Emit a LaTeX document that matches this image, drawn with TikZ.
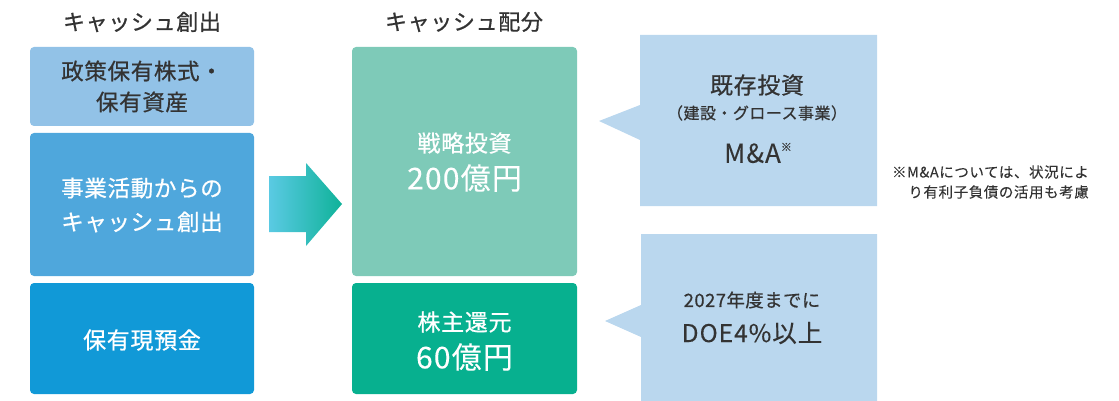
\documentclass[tikz,border=0pt]{standalone}
\usepackage{fontspec}
\setmainfont{Noto Sans CJK JP}[LetterSpace=3,FakeBold=0.7]
\newfontfamily\lite{Noto Sans CJK JP}[LetterSpace=4,FakeBold=0.15]
\definecolor{txt}{HTML}{333333}
\definecolor{lbA}{HTML}{92C2E7}
\definecolor{lbB}{HTML}{4FA7DC}
\definecolor{lbC}{HTML}{1199D7}
\definecolor{mgA}{HTML}{7ECAB8}
\definecolor{mgB}{HTML}{07B08F}
\definecolor{call}{HTML}{BAD7EE}
\definecolor{arL}{HTML}{5ACAE3}
\definecolor{arR}{HTML}{0FB299}
\newcommand{\fs}[1]{\fontsize{#1}{#1}\selectfont}
\begin{document}
\begin{tikzpicture}[x=1pt,y=-1pt,
  box/.style={rectangle, rounded corners=4pt, inner sep=0pt},
  lbl/.style={inner sep=0pt, text=txt},
  wlbl/.style={inner sep=0pt, text=white},
]
\useasboundingbox (0,0) rectangle (1119,401);
% titles
\node[lbl, font=\fs{22}] (t1) at (142,22) {キャッシュ創出};
\node[lbl, font=\fs{22}] (t2) at (464,22) {キャッシュ配分};
% left column
\node[box, fill=lbA, minimum width=224pt, minimum height=79pt] (l1) at (142,86.5) {};
\node[lbl, font=\fs{22.5}] (l1a) at (142,71) {政策保有株式・};
\node[lbl, font=\fs{22.5}] (l1b) at (142,102) {保有資産};
\node[box, fill=lbB, minimum width=224pt, minimum height=143pt] (l2) at (142,204.5) {};
\node[wlbl, font=\fs{22.5}] (l2a) at (142,188) {事業活動からの};
\node[wlbl, font=\fs{22.5}] (l2b) at (142,222) {キャッシュ創出};
\node[box, fill=lbC, minimum width=224pt, minimum height=111pt] (l3) at (142,338.5) {};
\node[wlbl, font=\fs{23}] (l3a) at (142,340) {保有現預金};
% arrow
\path[left color=arL, right color=arR] (269,176) -- (306,176) -- (306,163) -- (342,204) -- (306,246) -- (306,232) -- (269,232) -- cycle;
% middle column
\node[box, fill=mgA, minimum width=225pt, minimum height=229pt] (m1) at (464.5,161.5) {};
\node[wlbl, font=\fs{23}] (m1a) at (464.5,143) {戦略投資};
\node[wlbl, font=\lite\fs{30}] (m1b) at (464.5,178) {200億円};
\node[box, fill=mgB, minimum width=225pt, minimum height=111pt] (m2) at (464.5,338.5) {};
\node[wlbl, font=\fs{23}] (m2a) at (464.5,322) {株主還元};
\node[wlbl, font=\lite\fs{30}] (m2b) at (464.5,357) {60億円};
% callouts
\fill[call] (640,35) -- (877,35) -- (877,206) -- (640,206) -- (640,140) -- (599,121) -- (640,105) -- cycle;
\node[lbl, font=\fs{23}] (c1a) at (757,85) {既存投資};
\node[lbl, font=\fs{16}] (c1b) at (757,113) {（建設・グロース事業）};
\node[lbl, font=\lite\fs{26}] (c1c) at (758,153) {M\&A\raisebox{0.45em}{\fs{11}※}};
\fill[call] (641,234) -- (877,234) -- (877,401) -- (641,401) -- (641,337) -- (605,321) -- (641,305) -- cycle;
\node[lbl, font=\fs{18.3}] (c2a) at (752,300) {2027年度までに};
\node[lbl, font=\lite\fs{24.5}] (c2b) at (752,333) {DOE4\%以上};
% note
\node[lbl, font=\lite\fontsize{14.5}{20}\selectfont, align=right, anchor=east] (note) at (1089,182) {※M\&Aについては、状況によ\\り有利子負債の活用も考慮};
\end{tikzpicture}
\end{document}
